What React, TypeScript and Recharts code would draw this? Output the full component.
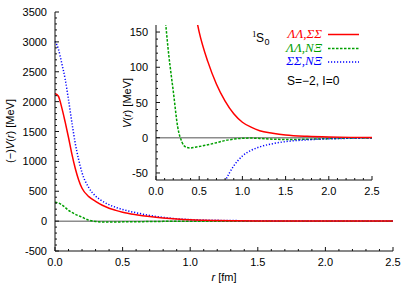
import { LineChart, Line, XAxis, YAxis, ReferenceLine } from "recharts"

// r [fm] grid
const rValues = [
  0, 0.025, 0.05, 0.075, 0.1, 0.125, 0.15, 0.175, 0.2, 0.25, 0.3, 0.35, 0.4, 0.45, 0.5,
  0.6, 0.7, 0.8, 0.9, 1.0, 1.1, 1.2, 1.35, 1.5, 1.75, 2.0, 2.25, 2.5,
]
// V(r) [MeV] for each channel
const vLamLamSigSig = [
  2135, 2090, 1900, 1660, 1400, 1120, 880, 690, 550, 410, 330, 265, 215, 180, 150,
  108, 76, 52, 34, 22, 15, 10, 6.5, 4, 2, 1, 0.5, 0.3,
]
const vLamLamNXi = [
  315, 305, 275, 230, 180, 145, 115, 90, 66, 16, -6, -13.5, -14.5, -13.5, -12.5,
  -10, -7, -4, -2, -0.8, -0.5, -1, -2, -2.5, -2.2, -1.3, -0.6, -0.3,
]
const vSigSigNXi = [
  -3010, -2880, -2640, -2380, -2030, -1650, -1300, -1030, -810, -560, -420, -335, -275, -230, -195,
  -140, -95, -62, -40, -26, -18, -13, -8.5, -5.5, -3, -1.6, -0.8, -0.4,
]

const xTicks = [
  0, 0.1, 0.2, 0.3, 0.4, 0.5, 0.6, 0.7, 0.8, 0.9, 1.0, 1.1, 1.2, 1.3, 1.4, 1.5,
  1.6, 1.7, 1.8, 1.9, 2.0, 2.1, 2.2, 2.3, 2.4, 2.5,
]
const mainYMajor = [-500, 0, 500, 1000, 1500, 2000, 2500, 3000, 3500]
const insetYMajor = [-50, 0, 50, 100, 150]

// minor ticks: 5 steps between majors
const withMinor = (majors: number[], n: number) => {
  const out: number[] = []
  for (let i = 0; i < majors.length - 1; i++) {
    const step = (majors[i + 1] - majors[i]) / n
    for (let k = 0; k < n; k++) out.push(majors[i] + k * step)
  }
  out.push(majors[majors.length - 1])
  return out
}
const mainYTicks = withMinor(mainYMajor, 5)
const insetYTicks = withMinor(insetYMajor, 5)

const data = rValues.map((r, i) => ({
  r,
  red: vLamLamSigSig[i],
  green: vLamLamNXi[i],
  blue: vSigSigNXi[i],
  blueNeg: -vSigSigNXi[i],
}))

const SANS = "'Liberation Sans', Arial, sans-serif"
const SERIF = "'Liberation Serif', 'Times New Roman', serif"
const RED = "#ff0000"
const GREEN = "#00a000"
const BLUE = "#0000ff"
const FRAME = "#111"

const isMajorX = (v: number) => Math.abs(v * 2 - Math.round(v * 2)) < 1e-6

const BottomTick = (props: any) => {
  const { x, y, payload } = props
  const major = isMajorX(payload.value)
  return (
    <g>
      <line x1={x} x2={x} y1={y} y2={y - (major ? 4 : 2)} stroke={FRAME} />
      {major && (
        <text x={x} y={y + 15} textAnchor="middle" fontSize={11} fontFamily={SANS} fill="#000">
          {payload.value.toFixed(1)}
        </text>
      )}
    </g>
  )
}

const TopTick = (props: any) => {
  const { x, y, payload } = props
  const major = isMajorX(payload.value)
  return <line x1={x} x2={x} y1={y} y2={y + (major ? 4 : 2)} stroke={FRAME} />
}

const makeLeftTick = (majorStep: number) => (props: any) => {
  const { x, y, payload } = props
  const major = payload.value % majorStep === 0
  return (
    <g>
      <line x1={x} x2={x + (major ? 4 : 2)} y1={y} y2={y} stroke={FRAME} />
      {major && (
        <text x={x - 8} y={y + 4} textAnchor="end" fontSize={11} fontFamily={SANS} fill="#000">
          {payload.value}
        </text>
      )}
    </g>
  )
}

const makeRightTick = (majorStep: number) => (props: any) => {
  const { x, y, payload } = props
  const major = payload.value % majorStep === 0
  return <line x1={x} x2={x - (major ? 4 : 2)} y1={y} y2={y} stroke={FRAME} />
}

const MainLeftTick = makeLeftTick(500)
const MainRightTick = makeRightTick(500)
const InsetLeftTick = makeLeftTick(50)
const InsetRightTick = makeRightTick(50)

const axisLine = { stroke: FRAME, strokeWidth: 1 }

export default function App() {
  return (
    <div style={{ position: "absolute", left: 0, top: 0, width: 407, height: 285, background: "#fff" }}>
      <div style={{ position: "absolute", left: 0, top: 0 }}>
        <LineChart width={407} height={285} data={data} margin={{ top: 12, right: 14, bottom: 0, left: 0 }}>
          <XAxis xAxisId="b" dataKey="r" type="number" domain={[0, 2.5]} ticks={xTicks} interval={0}
            height={34} tickSize={0} tickMargin={0} tickLine={false} axisLine={axisLine} tick={<BottomTick />} />
          <XAxis xAxisId="t" orientation="top" dataKey="r" type="number" domain={[0, 2.5]} ticks={xTicks} interval={0}
            height={0} tickSize={0} tickMargin={0} tickLine={false} axisLine={axisLine} tick={<TopTick />} />
          <YAxis yAxisId="l" type="number" domain={[-500, 3500]} ticks={mainYTicks} interval={0} allowDataOverflow
            width={55} tickSize={0} tickMargin={0} tickLine={false} axisLine={axisLine} tick={<MainLeftTick />} />
          <YAxis yAxisId="rt" orientation="right" type="number" domain={[-500, 3500]} ticks={mainYTicks} interval={0}
            allowDataOverflow width={0} tickSize={0} tickMargin={0} tickLine={false} axisLine={axisLine} tick={<MainRightTick />} />
          <ReferenceLine xAxisId="b" yAxisId="l" y={0} stroke="#8c8c8c" strokeWidth={1.5} />
          <Line xAxisId="t" yAxisId="rt" dataKey="red" stroke="none" dot={false} isAnimationActive={false} />
          <Line xAxisId="b" yAxisId="l" type="monotone" dataKey="green" stroke={GREEN} strokeWidth={1.5}
            strokeDasharray="2.5 1.5" dot={false} isAnimationActive={false} />
          <Line xAxisId="b" yAxisId="l" type="monotone" dataKey="blueNeg" stroke={BLUE} strokeWidth={1.5}
            strokeDasharray="1.2 1.8" dot={false} isAnimationActive={false} />
          <Line xAxisId="b" yAxisId="l" type="monotone" dataKey="red" stroke={RED} strokeWidth={1.5}
            dot={false} isAnimationActive={false} />
        </LineChart>
      </div>
      <div style={{ position: "absolute", left: 100, top: 15 }}>
        <LineChart width={280} height={200} data={data} margin={{ top: 10, right: 8, bottom: 0, left: 0 }}>
          <XAxis xAxisId="b" dataKey="r" type="number" domain={[0, 2.5]} ticks={xTicks} interval={0}
            height={35} tickSize={0} tickMargin={0} tickLine={false} axisLine={axisLine} tick={<BottomTick />} />
          <XAxis xAxisId="t" orientation="top" dataKey="r" type="number" domain={[0, 2.5]} ticks={xTicks} interval={0}
            height={0} tickSize={0} tickMargin={0} tickLine={false} axisLine={axisLine} tick={<TopTick />} />
          <YAxis yAxisId="l" type="number" domain={[-60, 160]} ticks={insetYTicks} interval={0} allowDataOverflow
            width={56} tickSize={0} tickMargin={0} tickLine={false} axisLine={axisLine} tick={<InsetLeftTick />} />
          <YAxis yAxisId="rt" orientation="right" type="number" domain={[-60, 160]} ticks={insetYTicks} interval={0}
            allowDataOverflow width={0} tickSize={0} tickMargin={0} tickLine={false} axisLine={axisLine} tick={<InsetRightTick />} />
          <ReferenceLine xAxisId="b" yAxisId="l" y={0} stroke="#8c8c8c" strokeWidth={1.5} />
          <Line xAxisId="t" yAxisId="rt" dataKey="red" stroke="none" dot={false} isAnimationActive={false} />
          <Line xAxisId="b" yAxisId="l" type="monotone" dataKey="green" stroke={GREEN} strokeWidth={1.5}
            strokeDasharray="2.5 1.5" dot={false} isAnimationActive={false} />
          <Line xAxisId="b" yAxisId="l" type="monotone" dataKey="blue" stroke={BLUE} strokeWidth={1.5}
            strokeDasharray="1.2 1.8" dot={false} isAnimationActive={false} />
          <Line xAxisId="b" yAxisId="l" type="monotone" dataKey="red" stroke={RED} strokeWidth={1.5}
            dot={false} isAnimationActive={false} />
        </LineChart>
      </div>
      <svg width={407} height={285} style={{ position: "absolute", left: 0, top: 0, pointerEvents: "none" }}>
        <text transform="translate(14,131) rotate(-90)" textAnchor="middle" fontSize={11} fontFamily={SANS}>
          (−)<tspan fontStyle="italic">V</tspan>(<tspan fontStyle="italic">r</tspan>) [MeV]
        </text>
        <text x={224} y={281} textAnchor="middle" fontSize={11} fontFamily={SANS}>
          <tspan fontStyle="italic">r</tspan> [fm]
        </text>
        <text transform="translate(131,103) rotate(-90)" textAnchor="middle" fontSize={11} fontFamily={SANS}>
          <tspan fontStyle="italic">V</tspan>(<tspan fontStyle="italic">r</tspan>) [MeV]
        </text>
        <text x={252} y={37} fontSize={9} fontFamily={SERIF}>1</text>
        <text x={256} y={41.5} fontSize={12} fontFamily={SANS}>S</text>
        <text x={264.5} y={44.5} fontSize={9} fontFamily={SANS}>0</text>
        <text x={322} y={38} textAnchor="end" fontSize={13} fontStyle="italic" fontFamily={SERIF} fill={RED}>ΛΛ,ΣΣ</text>
        <text x={322} y={51.5} textAnchor="end" fontSize={13} fontStyle="italic" fontFamily={SERIF} fill={GREEN}>ΛΛ,NΞ</text>
        <text x={322} y={65} textAnchor="end" fontSize={13} fontStyle="italic" fontFamily={SERIF} fill={BLUE}>ΣΣ,NΞ</text>
        <line x1={328} x2={359} y1={34.5} y2={34.5} stroke={RED} strokeWidth={1.5} />
        <line x1={328} x2={359} y1={48.5} y2={48.5} stroke={GREEN} strokeWidth={1.5} strokeDasharray="2.5 1.5" />
        <line x1={328} x2={359} y1={62} y2={62} stroke={BLUE} strokeWidth={1.5} strokeDasharray="1.2 1.8" />
        <text x={287} y={85} fontSize={12} fontFamily={SANS}>S=−2, I=0</text>
      </svg>
    </div>
  )
}
